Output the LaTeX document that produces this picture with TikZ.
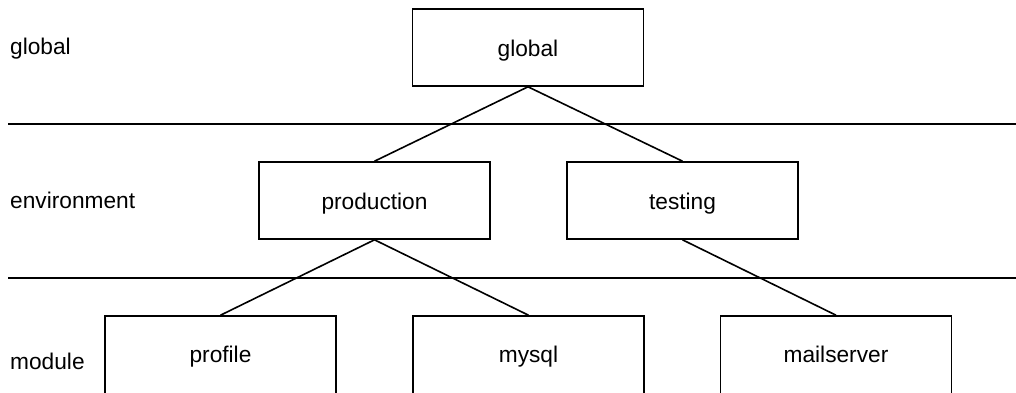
\documentclass[tikz,border=0pt]{standalone}
\usepackage{fontspec}
\setmainfont{Liberation Sans}
\begin{document}
\begin{tikzpicture}[x=1pt,y=-1pt,
  box/.style={draw,line width=1.6pt,minimum width=231pt,minimum height=77pt,inner sep=0pt,
    text height=22pt,text depth=4pt,font=\fontsize{22.7}{27}\selectfont},
  lowbox/.style={box,minimum height=82pt,text height=22pt,text depth=12pt},
  lvl/.style={anchor=base west,inner sep=0pt,font=\fontsize{22.7}{27}\selectfont},
  sep/.style={line width=1.6pt},
  conn/.style={line width=1.6pt}]
\useasboundingbox[fill=white] (0,0) rectangle (1016,392);
% level separators
\coordinate (s1a) at (8,124);
\coordinate (s1b) at (1016,124);
\coordinate (s2a) at (8,278);
\coordinate (s2b) at (1016,278);
\draw[sep] (s1a) -- (s1b);
\draw[sep] (s2a) -- (s2b);
% level labels
\node[lvl] (lg) at (10,54.5) {global};
\node[lvl] (le) at (10,208) {environment};
\node[lvl] (lm) at (10,369) {module};
% boxes
\node[box] (global) at (528,47.5) {global};
\node[box] (production) at (374.5,200.5) {production};
\node[box] (testing) at (682.5,200.5) {testing};
\node[lowbox] (profile) at (220.5,357) {profile};
\node[lowbox] (mysql) at (528.5,357) {mysql};
\node[lowbox] (mailserver) at (836,357) {mailserver};
% connectors
\draw[conn] (global.south) -- (production.north);
\draw[conn] (global.south) -- (testing.north);
\draw[conn] (production.south) -- (profile.north);
\draw[conn] (production.south) -- (mysql.north);
\draw[conn] (testing.south) -- (mailserver.north);
\end{tikzpicture}
\end{document}
